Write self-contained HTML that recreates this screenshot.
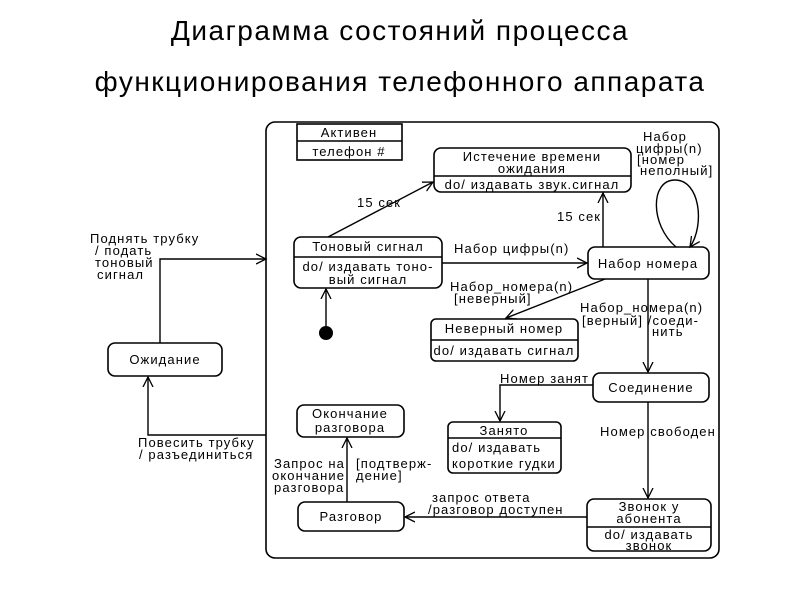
<!DOCTYPE html>
<html><head><meta charset="utf-8"><style>
body{margin:0;background:#fff;width:800px;height:600px;overflow:hidden}
svg{display:block}
text{font-family:"Liberation Sans","Noto Sans CJK SC",sans-serif;fill:#000}
.t{font-size:13px;letter-spacing:1.1px}
</style></head><body>
<svg width="800" height="600" viewBox="0 0 800 600">
<defs><marker id="a" markerWidth="12" markerHeight="12" refX="10" refY="6" orient="auto" markerUnits="userSpaceOnUse"><path d="M0,1 L10,6 L0,11" fill="none" stroke="#000" stroke-width="1.3"/></marker></defs>
<text x="400" y="40" font-size="28" letter-spacing="1.5" text-anchor="middle">Диаграмма состояний процесса</text>
<text x="400" y="91" font-size="28" letter-spacing="1.5" text-anchor="middle">функционирования телефонного аппарата</text>
<g fill="none" stroke="#000" stroke-width="1.6">
<rect x="266" y="122" width="453" height="436" rx="9"/>
<rect x="297" y="124" width="105" height="36"/><line x1="297" y1="141" x2="402" y2="141"/>
<rect x="434" y="148" width="197" height="44" rx="7"/><line x1="434" y1="176" x2="631" y2="176"/>
<rect x="294" y="237" width="148" height="51" rx="7"/><line x1="294" y1="257" x2="442" y2="257"/>
<rect x="588" y="247" width="121" height="32" rx="7"/>
<rect x="431" y="319" width="147" height="42" rx="5"/><line x1="431" y1="340" x2="578" y2="340"/>
<rect x="593" y="373" width="116" height="29" rx="7"/>
<rect x="448" y="422" width="113" height="51" rx="5"/><line x1="448" y1="438" x2="561" y2="438"/>
<rect x="297" y="405" width="107" height="32" rx="7"/>
<rect x="298" y="502" width="106" height="29" rx="7"/>
<rect x="587" y="499" width="124" height="52" rx="7"/><line x1="587" y1="527" x2="711" y2="527"/>
<rect x="108" y="343" width="114" height="33" rx="7"/>
</g>
<circle cx="326" cy="333" r="7" fill="#000"/>
<g fill="none" stroke="#000" stroke-width="1.4" marker-end="url(#a)">
<polyline points="160,343 160,259 266,259"/>
<polyline points="266,435 148,435 148,377"/>
<line x1="328" y1="237" x2="433" y2="182"/>
<line x1="603" y1="247" x2="603" y2="193"/>
<line x1="442" y1="263" x2="587" y2="263"/>
<path d="M676,247 C650,225 650,180 675,180 C700,180 705,225 690,247"/>
<line x1="605" y1="279" x2="506" y2="318"/>
<line x1="648" y1="279" x2="648" y2="372"/>
<polyline points="593,385 500,385 500,421"/>
<line x1="648" y1="402" x2="648" y2="498"/>
<line x1="587" y1="517" x2="405" y2="517"/>
<line x1="347" y1="502" x2="347" y2="438"/>
<line x1="326" y1="326" x2="326" y2="289"/>
</g>
<g class="t">
<text x="349" y="137" text-anchor="middle">Активен</text>
<text x="349" y="156" text-anchor="middle">телефон #</text>
<text x="532" y="161" text-anchor="middle">Истечение времени</text>
<text x="532" y="173" text-anchor="middle">ожидания</text>
<text x="532" y="189" text-anchor="middle">do/ издавать звук.сигнал</text>
<text x="368" y="251" text-anchor="middle">Тоновый сигнал</text>
<text x="368" y="271" text-anchor="middle">do/ издавать тоно-</text>
<text x="368" y="284" text-anchor="middle">вый сигнал</text>
<text x="648" y="268" text-anchor="middle">Набор номера</text>
<text x="504" y="333" text-anchor="middle">Неверный номер</text>
<text x="504" y="355" text-anchor="middle">do/ издавать сигнал</text>
<text x="651" y="392" text-anchor="middle">Соединение</text>
<text x="504" y="435" text-anchor="middle">Занято</text>
<text x="452" y="452">do/ издавать</text>
<text x="452" y="468">короткие гудки</text>
<text x="350" y="418" text-anchor="middle">Окончание</text>
<text x="350" y="432" text-anchor="middle">разговора</text>
<text x="351" y="521" text-anchor="middle">Разговор</text>
<text x="649" y="511" text-anchor="middle">Звонок у</text>
<text x="649" y="523" text-anchor="middle">абонента</text>
<text x="649" y="539" text-anchor="middle">do/ издавать</text>
<text x="649" y="550" text-anchor="middle">звонок</text>
<text x="165" y="364" text-anchor="middle">Ожидание</text>
<text x="357" y="207">15 сек</text>
<text x="557" y="221">15 сек</text>
<text x="454" y="253">Набор цифры(n)</text>
<text x="665" y="141" text-anchor="middle">Набор</text>
<text x="636" y="153">цифры(n)</text>
<text x="637" y="164">[номер</text>
<text x="640" y="175">неполный]</text>
<text x="450" y="291">Набор_номера(n)</text>
<text x="454" y="303">[неверный]</text>
<text x="580" y="312">Набор_номера(n)</text>
<text x="582" y="325">[верный] /соеди-</text>
<text x="652" y="336">нить</text>
<text x="500" y="383">Номер занят</text>
<text x="600" y="436">Номер  свободен</text>
<text x="90" y="243">Поднять трубку</text>
<text x="95" y="255">/ подать</text>
<text x="95" y="267">тоновый</text>
<text x="97" y="279">сигнал</text>
<text x="138" y="447">Повесить трубку</text>
<text x="139" y="459">/ разъединиться</text>
<text x="274" y="468">Запрос на</text>
<text x="272" y="480">окончание</text>
<text x="274" y="492">разговора</text>
<text x="356" y="468">[подтверж-</text>
<text x="356" y="480">дение]</text>
<text x="432" y="502">запрос ответа</text>
<text x="428" y="514">/разговор доступен</text>
</g>
</svg>
</body></html>
